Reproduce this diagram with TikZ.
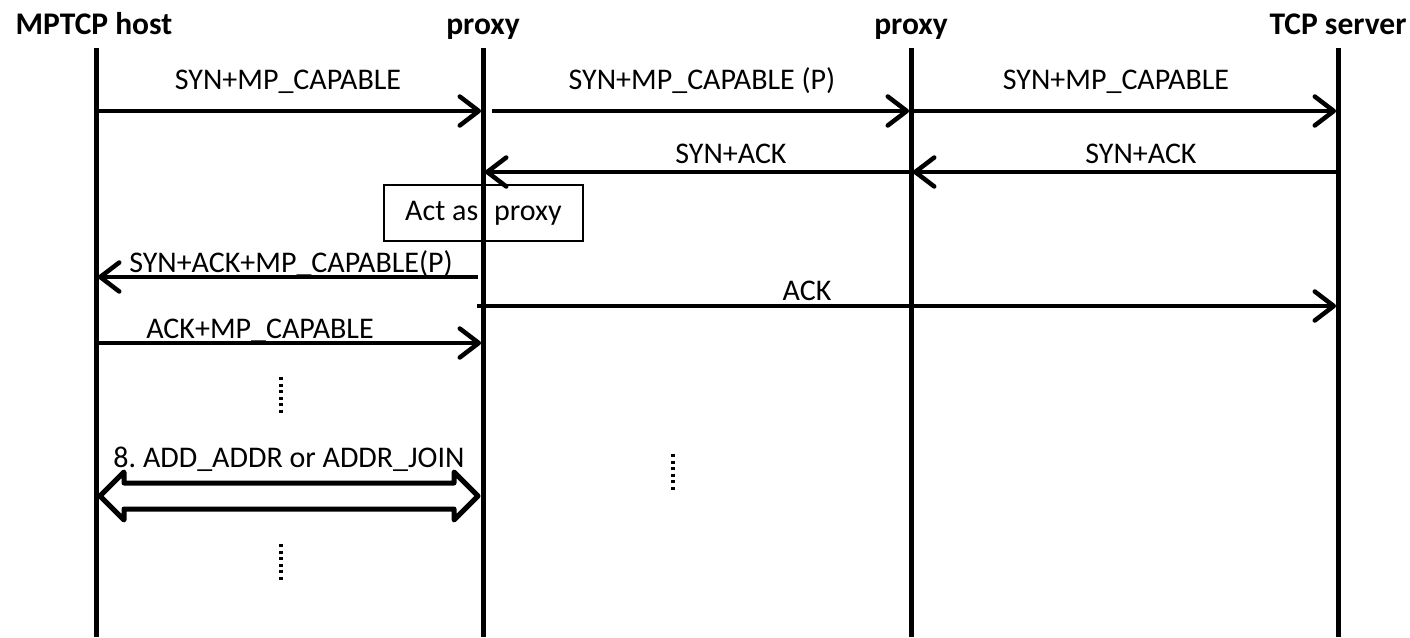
\documentclass[tikz,border=0pt]{standalone}
\usepackage{fontspec}
\setmainfont{Carlito}
\usetikzlibrary{arrows.meta}
\begin{document}
\begin{tikzpicture}[x=1pt,y=-1pt,
  life/.style={line width=5pt},
  msg/.style={line width=4.5pt,-{Straight Barb[length=19pt,width=29pt,round]}},
  lbl/.style={font=\fontsize{30}{35}\selectfont, anchor=base, inner sep=0pt},
  head/.style={font=\bfseries\fontsize{31.5}{36}\selectfont, anchor=base, inner sep=0pt},
  dotline/.style={line width=3.2pt, dash pattern=on 3pt off 3.6pt},
  actbox/.style={draw, line width=1.5pt, fill=white, minimum width=199pt, minimum height=56pt, inner sep=0pt, font=\fontsize{30}{35}\selectfont},
  dbl/.style={line width=5pt, line join=round, fill=white}
  ]
\useasboundingbox (0,0) rectangle (1410,637);

% headings
\node[head] (hA) at (94,34) {MPTCP host};
\node[head] (hB) at (483,34) {proxy};
\node[head] (hC) at (911,34) {proxy};
\node[head] (hD) at (1338,34) {TCP server};

% act as proxy box (under the lifeline)
\node[actbox] (act) at (483.5,213) {\raisebox{-3pt}{Act as\hspace{16pt}proxy}};

% lifelines
\coordinate (At) at (96,48);  \coordinate (Ab) at (96,637);
\coordinate (Bt) at (483,48); \coordinate (Bb) at (483,637);
\coordinate (Ct) at (911,48); \coordinate (Cb) at (911,637);
\coordinate (Dt) at (1338,48); \coordinate (Db) at (1338,637);
\draw[life] (At) -- (Ab);
\draw[life] (Bt) -- (Bb);
\draw[life] (Ct) -- (Cb);
\draw[life] (Dt) -- (Db);

% message end points
\coordinate (m1s) at (98,111);  \coordinate (m1e) at (481,111);
\coordinate (m2s) at (492,111); \coordinate (m2e) at (909,111);
\coordinate (m3s) at (911,111); \coordinate (m3e) at (1336,111);
\coordinate (m4s) at (911,172); \coordinate (m4e) at (485,172);
\coordinate (m5s) at (1338,172); \coordinate (m5e) at (913,172);
\coordinate (m6s) at (478,277); \coordinate (m6e) at (98,277);
\coordinate (m7s) at (477,306); \coordinate (m7e) at (1336,306);
\coordinate (m8s) at (96,343);  \coordinate (m8e) at (481,343);

\draw[msg] (m1s) -- (m1e);
\draw[msg] (m2s) -- (m2e);
\draw[msg] (m3s) -- (m3e);
\draw[msg] (m4s) -- (m4e);
\draw[msg] (m5s) -- (m5e);
\draw[msg] (m6s) -- (m6e);
\draw[msg] (m7s) -- (m7e);
\draw[msg] (m8s) -- (m8e);

% labels
\node[lbl] (l1) at (288,89) {SYN+MP\_CAPABLE};
\node[lbl] (l2) at (702,89) {SYN+MP\_CAPABLE (P)};
\node[lbl] (l3) at (1116,89) {SYN+MP\_CAPABLE};
\node[lbl] (l4) at (731,163) {SYN+ACK};
\node[lbl] (l5) at (1141,163) {SYN+ACK};
\node[lbl] (l6) at (291,272) {SYN+ACK+MP\_CAPABLE(P)};
\node[lbl] (l7) at (807,300) {ACK};
\node[lbl] (l8) at (260,338) {ACK+MP\_CAPABLE};
\node[lbl] (l9) at (289,467) {8.\ ADD\_ADDR or ADDR\_JOIN};

% double arrow
\draw[dbl] (100,496) -- (124,472) -- (124,483) -- (454,483) -- (454,472) -- (478,496)
  -- (454,520) -- (454,509) -- (124,509) -- (124,520) -- cycle;

% dotted continuation marks
\coordinate (d1t) at (281,377); \coordinate (d1b) at (281,416);
\coordinate (d2t) at (281,544); \coordinate (d2b) at (281,583);
\coordinate (d3t) at (673,454); \coordinate (d3b) at (673,493);
\draw[dotline] (d1t) -- (d1b);
\draw[dotline] (d2t) -- (d2b);
\draw[dotline] (d3t) -- (d3b);
\end{tikzpicture}
\end{document}
